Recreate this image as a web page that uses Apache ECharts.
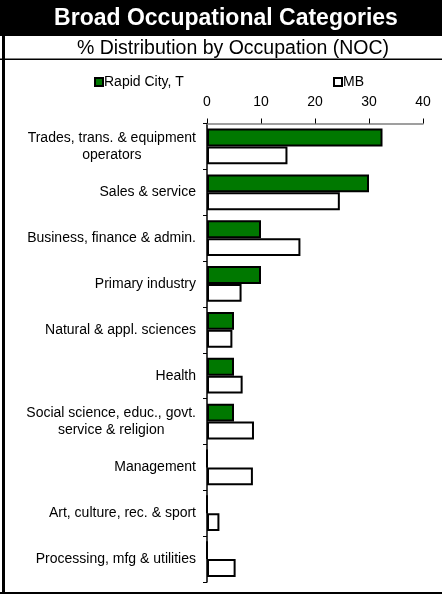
<!DOCTYPE html>
<html><head><meta charset="utf-8">
<script src="https://cdn.jsdelivr.net/npm/echarts@6/dist/echarts.min.js"></script>
<style>html,body{margin:0;padding:0;background:#fff}#c{width:442px;height:594px}</style>
</head><body><div id="c"></div>
<script>
const categories = ['Trades, trans. & equipment\noperators','Sales & service','Business, finance & admin.','Primary industry','Natural & appl. sciences','Health','Social science, educ., govt.\nservice & religion','Management','Art, culture, rec. & sport','Processing, mfg & utilities'];
const rapidCity = [32.5, 30.0, 10.0, 10.0, 5.0, 5.0, 5.0, 0, 0, 0];
const mb = [14.9, 24.6, 17.3, 6.4, 4.7, 6.6, 8.7, 8.5, 2.3, 5.3];
const xTicks = [0, 10, 20, 30, 40];
const seriesNames = ['Rapid City, T', 'MB'];
const titleText = 'Broad Occupational Categories';
const subtitleText = '% Distribution by Occupation (NOC)';

const chart = echarts.init(document.getElementById('c'), null, {renderer:'canvas'});
const F = 'Liberation Sans, Arial, sans-serif';
chart.setOption({
  animation:false,
  backgroundColor:'#fff',
  graphic:[
    {type:'rect', shape:{x:0,y:0,width:442,height:36}, style:{fill:'#000'}},
    {type:'text', x:226, y:18.5, style:{text:titleText, fill:'#fff', font:'bold 23px '+F, align:'center', verticalAlign:'middle'}},
    {type:'text', x:233, y:48.5, style:{text:subtitleText, fill:'#000', font:'19.5px '+F, align:'center', verticalAlign:'middle'}},
    {type:'rect', shape:{x:0,y:58.5,width:442,height:1.5}, style:{fill:'#000'}},
    {type:'rect', shape:{x:2,y:36,width:3,height:558}, style:{fill:'#000'}},
    {type:'rect', shape:{x:0,y:592,width:442,height:2}, style:{fill:'#000'}}
  ],
  legend:[
    {data:[seriesNames[0]], left:94, top:75, padding:0, icon:'rect', itemWidth:8, itemHeight:8, itemGap:4,
     textStyle:{fontFamily:F, fontSize:14, color:'#000', padding:[0,0,0,-4]}, selectedMode:false},
    {data:[seriesNames[1]], left:333, top:75, padding:0, icon:'rect', itemWidth:8, itemHeight:8, itemGap:4,
     textStyle:{fontFamily:F, fontSize:14, color:'#000', padding:[0,0,0,-4]}, selectedMode:false}
  ],
  grid:{left:207, right:19, top:123.5, bottom:12, containLabel:false},
  xAxis:{type:'value', position:'top', min:xTicks[0], max:xTicks[xTicks.length-1], interval:10,
    axisLine:{show:true, lineStyle:{color:'#808080', width:1.5}},
    axisTick:{show:true, length:5, lineStyle:{color:'#000'}},
    axisLabel:{fontFamily:F, fontSize:14, color:'#000', margin:14},
    splitLine:{show:false}},
  yAxis:{type:'category', data:categories, inverse:true,
    axisLine:{show:true, lineStyle:{color:'#000', width:1.5}},
    axisTick:{show:true, length:4, lineStyle:{color:'#000'}},
    axisLabel:{fontFamily:F, fontSize:14, color:'#000', margin:11, align:'right', lineHeight:17,
      formatter:function(v){return v.split('\n').map(function(s){return '{c|'+s+'}';}).join('\n');},
      rich:{c:{fontFamily:F, fontSize:14, color:'#000', lineHeight:17, align:'center'}}}},
  series:[
    {name:seriesNames[0], type:'bar', data:rapidCity, barGap:'0%', barCategoryGap:'22%',
     itemStyle:{color:'#007800', borderColor:'#000', borderWidth:2}},
    {name:seriesNames[1], type:'bar', data:mb,
     itemStyle:{color:'#fff', borderColor:'#000', borderWidth:2}}
  ]
});
</script></body></html>
